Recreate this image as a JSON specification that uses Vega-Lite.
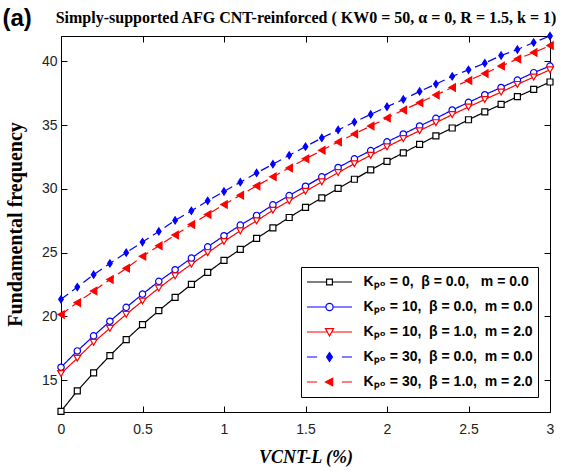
{
  "$schema": "https://vega.github.io/schema/vega-lite/v6.json",
  "autosize": {"type": "none"},
  "width": 489,
  "height": 376,
  "padding": {"left": 61, "top": 36, "right": 21, "bottom": 59},
  "background": "white",
  "config": {
    "view": {"stroke": "black", "strokeWidth": 1},
    "axis": {"grid": false, "domain": false, "tickColor": "black", "tickWidth": 1, "labelFont": "Liberation Sans", "labelFontSize": 14, "labelColor": "#222"}
  },
  "datasets": {
    "series": [
      {"s": "a", "name": "Kₚ₀ = 0,\u00a0 β = 0.0,\u00a0\u00a0 m = 0.0"},
      {"s": "b", "name": "Kₚ₀ = 10,\u00a0 β = 0.0,\u00a0 m = 0.0"},
      {"s": "c", "name": "Kₚ₀ = 10,\u00a0 β = 1.0,\u00a0 m = 2.0"},
      {"s": "d", "name": "Kₚ₀ = 30,\u00a0 β = 0.0,\u00a0 m = 0.0"},
      {"s": "e", "name": "Kₚ₀ = 30,\u00a0 β = 1.0,\u00a0 m = 2.0"}
    ]
  },
  "data": {"values": [
    {"x":0,"s":"a","y":12.55},{"x":0.1,"s":"a","y":14.16},{"x":0.2,"s":"a","y":15.57},{"x":0.3,"s":"a","y":16.93},{"x":0.4,"s":"a","y":18.18},{"x":0.5,"s":"a","y":19.36},{"x":0.6,"s":"a","y":20.45},{"x":0.7,"s":"a","y":21.5},{"x":0.8,"s":"a","y":22.51},{"x":0.9,"s":"a","y":23.45},{"x":1.0,"s":"a","y":24.4},{"x":1.1,"s":"a","y":25.26},{"x":1.2,"s":"a","y":26.12},{"x":1.3,"s":"a","y":26.95},{"x":1.4,"s":"a","y":27.76},{"x":1.5,"s":"a","y":28.55},{"x":1.6,"s":"a","y":29.3},{"x":1.7,"s":"a","y":30.04},{"x":1.8,"s":"a","y":30.76},{"x":1.9,"s":"a","y":31.49},{"x":2.0,"s":"a","y":32.17},{"x":2.1,"s":"a","y":32.83},{"x":2.2,"s":"a","y":33.5},{"x":2.3,"s":"a","y":34.16},{"x":2.4,"s":"a","y":34.78},{"x":2.5,"s":"a","y":35.43},{"x":2.6,"s":"a","y":36.04},{"x":2.7,"s":"a","y":36.63},{"x":2.8,"s":"a","y":37.24},{"x":2.9,"s":"a","y":37.81},{"x":3.0,"s":"a","y":38.39},
    {"x":0,"s":"b","y":16.01},{"x":0.1,"s":"b","y":17.29},{"x":0.2,"s":"b","y":18.47},{"x":0.3,"s":"b","y":19.62},{"x":0.4,"s":"b","y":20.71},{"x":0.5,"s":"b","y":21.75},{"x":0.6,"s":"b","y":22.75},{"x":0.7,"s":"b","y":23.66},{"x":0.8,"s":"b","y":24.57},{"x":0.9,"s":"b","y":25.46},{"x":1.0,"s":"b","y":26.33},{"x":1.1,"s":"b","y":27.16},{"x":1.2,"s":"b","y":27.92},{"x":1.3,"s":"b","y":28.75},{"x":1.4,"s":"b","y":29.48},{"x":1.5,"s":"b","y":30.21},{"x":1.6,"s":"b","y":30.95},{"x":1.7,"s":"b","y":31.68},{"x":1.8,"s":"b","y":32.36},{"x":1.9,"s":"b","y":33.01},{"x":2.0,"s":"b","y":33.69},{"x":2.1,"s":"b","y":34.31},{"x":2.2,"s":"b","y":34.94},{"x":2.3,"s":"b","y":35.54},{"x":2.4,"s":"b","y":36.19},{"x":2.5,"s":"b","y":36.79},{"x":2.6,"s":"b","y":37.39},{"x":2.7,"s":"b","y":37.96},{"x":2.8,"s":"b","y":38.54},{"x":2.9,"s":"b","y":39.12},{"x":3.0,"s":"b","y":39.64},
    {"x":0,"s":"c","y":15.52},{"x":0.1,"s":"c","y":16.72},{"x":0.2,"s":"c","y":17.97},{"x":0.3,"s":"c","y":19.07},{"x":0.4,"s":"c","y":20.16},{"x":0.5,"s":"c","y":21.21},{"x":0.6,"s":"c","y":22.22},{"x":0.7,"s":"c","y":23.18},{"x":0.8,"s":"c","y":24.1},{"x":0.9,"s":"c","y":25.0},{"x":1.0,"s":"c","y":25.88},{"x":1.1,"s":"c","y":26.72},{"x":1.2,"s":"c","y":27.5},{"x":1.3,"s":"c","y":28.33},{"x":1.4,"s":"c","y":29.07},{"x":1.5,"s":"c","y":29.82},{"x":1.6,"s":"c","y":30.56},{"x":1.7,"s":"c","y":31.28},{"x":1.8,"s":"c","y":31.98},{"x":1.9,"s":"c","y":32.64},{"x":2.0,"s":"c","y":33.3},{"x":2.1,"s":"c","y":33.95},{"x":2.2,"s":"c","y":34.57},{"x":2.3,"s":"c","y":35.2},{"x":2.4,"s":"c","y":35.83},{"x":2.5,"s":"c","y":36.43},{"x":2.6,"s":"c","y":37.02},{"x":2.7,"s":"c","y":37.6},{"x":2.8,"s":"c","y":38.2},{"x":2.9,"s":"c","y":38.78},{"x":3.0,"s":"c","y":39.35},
    {"x":0,"s":"d","y":21.34},{"x":0.1,"s":"d","y":22.3},{"x":0.2,"s":"d","y":23.27},{"x":0.3,"s":"d","y":24.16},{"x":0.4,"s":"d","y":25.0},{"x":0.5,"s":"d","y":25.83},{"x":0.6,"s":"d","y":26.67},{"x":0.7,"s":"d","y":27.53},{"x":0.8,"s":"d","y":28.28},{"x":0.9,"s":"d","y":29.07},{"x":1.0,"s":"d","y":29.8},{"x":1.1,"s":"d","y":30.53},{"x":1.2,"s":"d","y":31.26},{"x":1.3,"s":"d","y":31.94},{"x":1.4,"s":"d","y":32.64},{"x":1.5,"s":"d","y":33.32},{"x":1.6,"s":"d","y":34.0},{"x":1.7,"s":"d","y":34.63},{"x":1.8,"s":"d","y":35.25},{"x":1.9,"s":"d","y":35.85},{"x":2.0,"s":"d","y":36.45},{"x":2.1,"s":"d","y":37.02},{"x":2.2,"s":"d","y":37.65},{"x":2.3,"s":"d","y":38.23},{"x":2.4,"s":"d","y":38.83},{"x":2.5,"s":"d","y":39.35},{"x":2.6,"s":"d","y":39.87},{"x":2.7,"s":"d","y":40.47},{"x":2.8,"s":"d","y":40.94},{"x":2.9,"s":"d","y":41.49},{"x":3.0,"s":"d","y":42.0},
    {"x":0,"s":"e","y":20.14},{"x":0.1,"s":"e","y":21.08},{"x":0.2,"s":"e","y":21.99},{"x":0.3,"s":"e","y":22.9},{"x":0.4,"s":"e","y":23.77},{"x":0.5,"s":"e","y":24.71},{"x":0.6,"s":"e","y":25.54},{"x":0.7,"s":"e","y":26.38},{"x":0.8,"s":"e","y":27.21},{"x":0.9,"s":"e","y":28.0},{"x":1.0,"s":"e","y":28.78},{"x":1.1,"s":"e","y":29.51},{"x":1.2,"s":"e","y":30.24},{"x":1.3,"s":"e","y":30.95},{"x":1.4,"s":"e","y":31.65},{"x":1.5,"s":"e","y":32.36},{"x":1.6,"s":"e","y":33.03},{"x":1.7,"s":"e","y":33.69},{"x":1.8,"s":"e","y":34.31},{"x":1.9,"s":"e","y":34.94},{"x":2.0,"s":"e","y":35.57},{"x":2.1,"s":"e","y":36.19},{"x":2.2,"s":"e","y":36.77},{"x":2.3,"s":"e","y":37.37},{"x":2.4,"s":"e","y":37.96},{"x":2.5,"s":"e","y":38.51},{"x":2.6,"s":"e","y":39.06},{"x":2.7,"s":"e","y":39.64},{"x":2.8,"s":"e","y":40.19},{"x":2.9,"s":"e","y":40.7},{"x":3.0,"s":"e","y":41.25}
  ]},
  "transform": [{"lookup": "s", "from": {"data": {"name": "series"}, "key": "s", "fields": ["name"]}}],
  "resolve": {"axis": {"x": "independent", "y": "independent"}},
  "layer": [
    {
      "mark": {"type": "line", "strokeWidth": 1.2, "clip": false},
      "encoding": {
        "x": {"field": "x", "type": "quantitative", "scale": {"domain": [0, 3], "nice": false, "zero": false},
          "axis": {"orient": "bottom", "values": [0, 0.5, 1, 1.5, 2, 2.5, 3], "format": "~g", "tickSize": -6, "labelPadding": 16, "labelFlush": false,
            "title": "VCNT-L (%)", "titleFont": "Liberation Serif", "titleFontSize": 18, "titleFontWeight": "bold", "titleFontStyle": "italic", "titleColor": "black", "titlePadding": 12}},
        "y": {"field": "y", "type": "quantitative", "scale": {"domain": [12.5, 42], "nice": false, "zero": false},
          "axis": {"orient": "left", "values": [15, 20, 25, 30, 35, 40], "tickSize": -6, "labelPadding": 10,
            "title": "Fundamental frequency", "titleFont": "Liberation Serif", "titleFontSize": 20, "titleFontWeight": "bold", "titleColor": "black", "titlePadding": 16}},
        "color": {"field": "name", "type": "nominal",
          "scale": {"domain": ["Kₚ₀ = 0,\u00a0 β = 0.0,\u00a0\u00a0 m = 0.0", "Kₚ₀ = 10,\u00a0 β = 0.0,\u00a0 m = 0.0", "Kₚ₀ = 10,\u00a0 β = 1.0,\u00a0 m = 2.0", "Kₚ₀ = 30,\u00a0 β = 0.0,\u00a0 m = 0.0", "Kₚ₀ = 30,\u00a0 β = 1.0,\u00a0 m = 2.0"], "range": ["black", "blue", "red", "blue", "red"]},
          "legend": {
            "orient": "none", "legendX": 240, "legendY": 231, "title": null,
            "fillColor": "white", "strokeColor": "black", "padding": 5,
            "symbolSize": 2025, "symbolStrokeWidth": 1.2, "labelOffset": 10.5, "rowPadding": 5, "clipHeight": 20, "labelLimit": 0,
            "labelFont": "Liberation Sans", "labelFontSize": 14, "labelFontWeight": "bold", "labelColor": "black",
            "encode": {"symbols": {"update": {
              "shape": {"signal": "datum.index == 0 ? 'M-1,0L-0.13,0M0.13,0L1,0M-0.13,-0.13L0.13,-0.13L0.13,0.13L-0.13,0.13Z' : datum.index == 1 ? 'M-1,0L-0.16,0M0.16,0L1,0M-0.16,0A0.16,0.16 0 1,0 0.16,0A0.16,0.16 0 1,0 -0.16,0Z' : datum.index == 2 ? 'M-1,0L-0.1,0M0.1,0L1,0M-0.18,-0.15L0.18,-0.15L0,0.18Z' : datum.index == 3 ? 'M-1,0L-0.55,0M0.55,0L1,0M0,-0.2L0.13,0L0,0.2L-0.13,0Z' : 'M-1,0L-0.55,0M0.55,0L1,0M-0.18,0L0.14,-0.17L0.14,0.17Z'"},
              "fill": {"signal": "datum.index == 3 ? 'blue' : datum.index == 4 ? 'red' : 'white'"},
              "strokeDash": {"signal": "[]"}
            }}}
          }},
        "strokeDash": {"field": "s", "type": "nominal", "scale": {"domain": ["a", "b", "c", "d", "e"], "range": [[1, 0], [1, 0], [1, 0], [9, 5], [9, 5]]}, "legend": null}
      }
    },
    {
      "mark": {"type": "point", "strokeWidth": 1.2, "opacity": 1, "filled": false, "clip": false},
      "encoding": {
        "x": {"field": "x", "type": "quantitative",
          "axis": {"orient": "top", "values": [0, 0.5, 1, 1.5, 2, 2.5, 3], "tickSize": -6, "labels": false,
            "title": "Simply-supported AFG CNT-reinforced ( KW0 = 50,  α = 0, R = 1.5, k = 1)", "titleFont": "Liberation Serif", "titleFontSize": 16, "titleFontWeight": "bold", "titleColor": "black", "titlePadding": 13, "titleBaseline": "alphabetic"}},
        "y": {"field": "y", "type": "quantitative",
          "axis": {"orient": "right", "values": [15, 20, 25, 30, 35, 40], "tickSize": -6, "labels": false,
            "title": "(a)", "titleAngle": 0, "titleX": -548, "titleY": -11, "titleAlign": "left", "titleBaseline": "alphabetic", "titleFont": "Liberation Sans", "titleFontSize": 24, "titleFontWeight": "bold", "titleColor": "black"}},
        "shape": {"field": "s", "type": "nominal", "scale": {"domain": ["a", "b", "c", "d", "e"], "range": ["square", "circle", "triangle-down", "M0,-1L0.65,0L0,1L-0.65,0Z", "triangle-left"]}, "legend": null},
        "stroke": {"field": "s", "type": "nominal", "scale": {"domain": ["a", "b", "c", "d", "e"], "range": ["black", "blue", "red", "blue", "red"]}, "legend": null},
        "fill": {"field": "s", "type": "nominal", "scale": {"domain": ["a", "b", "c", "d", "e"], "range": ["white", "white", "white", "blue", "red"]}, "legend": null},
        "size": {"field": "s", "type": "nominal", "scale": {"domain": ["a", "b", "c", "d", "e"], "range": [36, 55, 60, 100, 70]}, "legend": null}
      }
    }
  ]
}
